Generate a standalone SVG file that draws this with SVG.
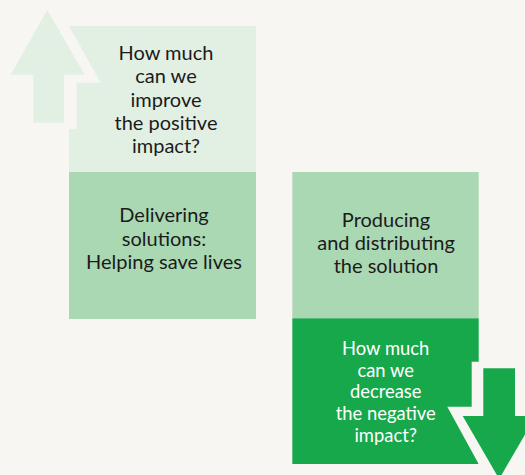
<svg xmlns="http://www.w3.org/2000/svg" width="525" height="475" viewBox="0 0 525 475">
<style>
.t{font-family:Lato,"Liberation Sans",sans-serif;text-anchor:middle;fill:#1b1b1b;font-size:20px}
.w{fill:#ffffff;font-size:18.4px}
.light{fill:#e2f0e3}
.mid{fill:#aad8b3}
.dark{fill:#17a84b}
.bg{fill:#f8f6f3}
</style>
<rect width="525" height="475" class="bg"/>
<g id="box-improve">
<rect x="69" y="26" width="187" height="146" class="light"/>
<polygon class="bg" points="69,26 100.7,82.7 76.7,82.7 76.7,129.3 69,129.3"/>
<text class="t" x="166" y="60">How much</text>
<text class="t" x="166" y="83.3">can we</text>
<text class="t" x="166" y="106.5">improve</text>
<text class="t" x="166" y="129.8">the positive</text>
<text class="t" x="166" y="153">impact?</text>
</g>
<g id="arrow-up">
<polygon class="light" points="47.3,10 84.7,74.7 64,74.7 64,122.7 33.3,122.7 33.3,74.7 10.7,74.7"/>
</g>
<g id="box-delivering">
<rect x="69" y="172" width="187" height="147" class="mid"/>
<text class="t" x="164" y="222.3">Delivering</text>
<text class="t" x="164" y="245.6">solutions:</text>
<text class="t" x="164" y="268.9">Helping save lives</text>
</g>
<g id="box-producing">
<rect x="292.3" y="172" width="186.4" height="146.3" class="mid"/>
<text class="t" x="386" y="226.7">Producing</text>
<text class="t" x="386" y="250">and distributing</text>
<text class="t" x="386" y="273.3">the solution</text>
</g>
<g id="box-decrease">
<rect x="292.3" y="318.3" width="186.4" height="145.7" class="dark"/>
<polygon class="bg" points="471.7,361.7 479,361.7 479,464 478.7,464 447.3,406.7 471.7,406.7"/>
<text class="t w" x="385.7" y="355">How much</text>
<text class="t w" x="385.7" y="376.7">can we</text>
<text class="t w" x="385.7" y="398.4">decrease</text>
<text class="t w" x="385.7" y="420.1">the negative</text>
<text class="t w" x="385.7" y="441.8">impact?</text>
</g>
<g id="arrow-down">
<polygon class="dark" points="483.3,368.3 515,368.3 515,416 535.7,416 499.2,479 462.7,416 483.3,416"/>
</g>
<g id="connectors"></g>
</svg>
